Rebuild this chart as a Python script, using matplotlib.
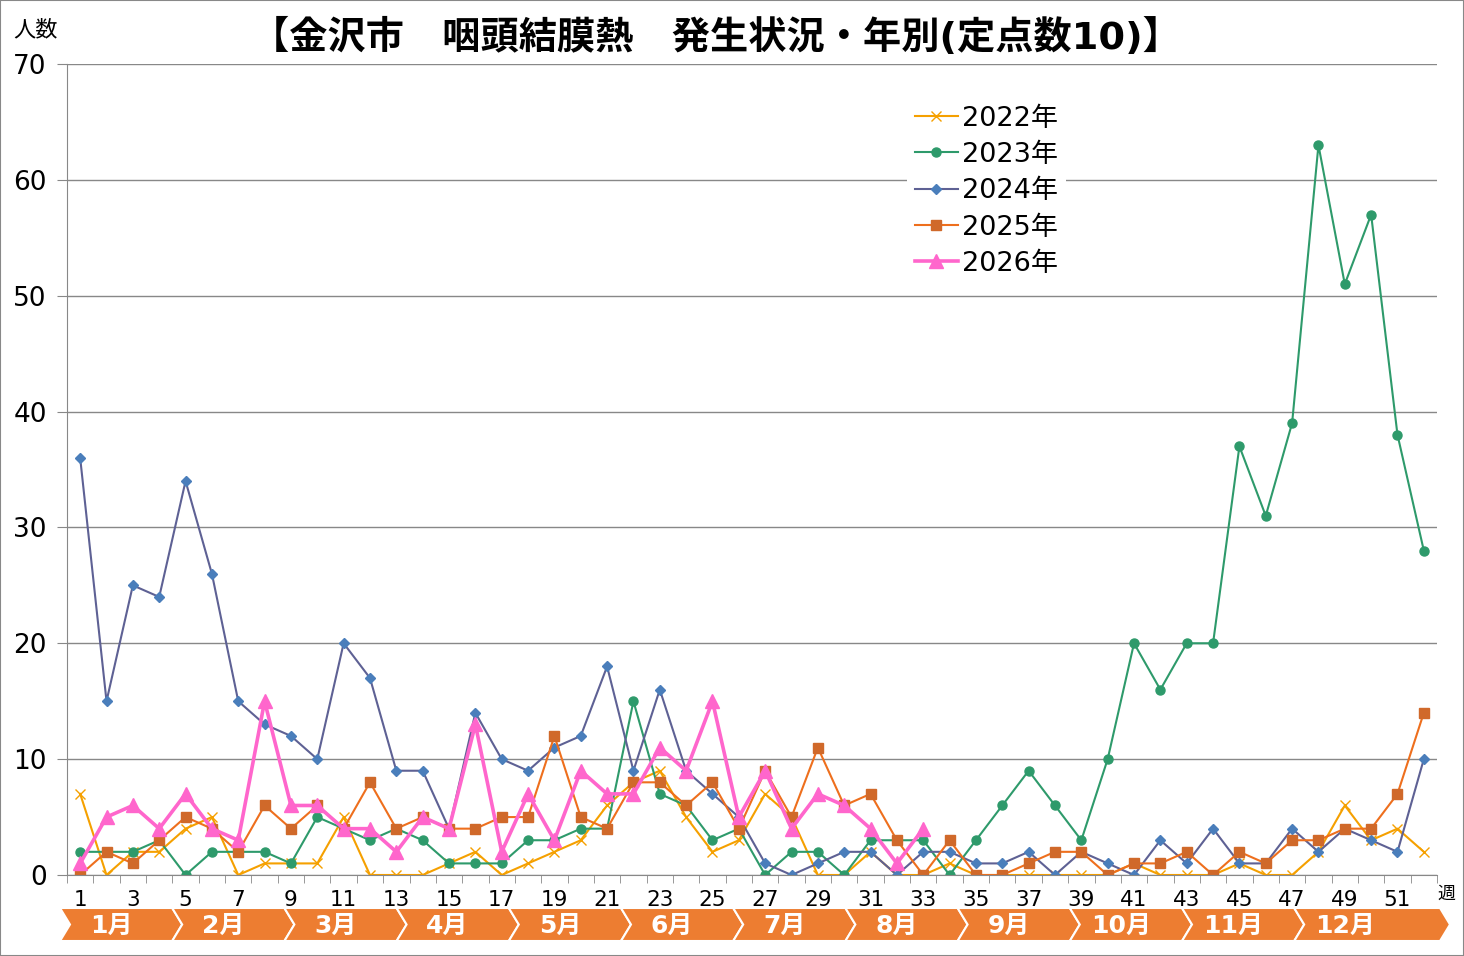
import matplotlib
matplotlib.use('Agg')
import matplotlib.pyplot as plt
from matplotlib.patches import Polygon, Rectangle
import numpy as np

# 数字は幅広の DejaVu、漢字は Noto CJK にまかせる
plt.rcParams['font.family'] = ['DejaVu Sans', 'Noto Sans CJK JP']

# 週別の患者数（定点数10）
weeks = np.arange(1, 53)
y2022 = [7, 0, 2, 2, 4, 5, 0, 1, 1, 1, 5, 0, 0, 0, 1, 2, 0, 1, 2, 3,
         6, 8, 9, 5, 2, 3, 7, 5, 0, 0, 2, 0, 0, 1, 0, 0, 0, 0, 0, 0,
         1, 0, 0, 0, 1, 0, 0, 2, 6, 3, 4, 2]
y2023 = [2, 2, 2, 3, 0, 2, 2, 2, 1, 5, 4, 3, 4, 3, 1, 1, 1, 3, 3, 4,
         4, 15, 7, 6, 3, 4, 0, 2, 2, 0, 3, 3, 3, 0, 3, 6, 9, 6, 3, 10,
         20, 16, 20, 20, 37, 31, 39, 63, 51, 57, 38, 28]
y2024 = [36, 15, 25, 24, 34, 26, 15, 13, 12, 10, 20, 17, 9, 9, 4, 14, 10, 9, 11, 12,
         18, 9, 16, 9, 7, 5, 1, 0, 1, 2, 2, 0, 2, 2, 1, 1, 2, 0, 2, 1,
         0, 3, 1, 4, 1, 1, 4, 2, 4, 3, 2, 10]
y2025 = [0, 2, 1, 3, 5, 4, 2, 6, 4, 6, 4, 8, 4, 5, 4, 4, 5, 5, 12, 5,
         4, 8, 8, 6, 8, 4, 9, 5, 11, 6, 7, 3, 0, 3, 0, 0, 1, 2, 2, 0,
         1, 1, 2, 0, 2, 1, 3, 3, 4, 4, 7, 14]
y2026 = [1, 5, 6, 4, 7, 4, 3, 15, 6, 6, 4, 4, 2, 5, 4, 13, 2, 7, 3, 9,
         7, 7, 11, 9, 15, 5, 9, 4, 7, 6, 4, 1, 4]

months = ['1月', '2月', '3月', '4月', '5月', '6月', '7月', '8月', '9月', '10月', '11月', '12月']
title = '【金沢市　咽頭結膜熱　発生状況・年別(定点数10)】'

fig = plt.figure(figsize=(14.64, 9.56), dpi=100)
ax = fig.add_axes([67 / 1464, 1 - 875 / 956, (1437 - 67) / 1464, (875 - 64) / 956])

ax.plot(weeks, y2022, color='#F5A000', lw=1.5, marker='x', ms=7, mew=1.0, label='2022年')
ax.plot(weeks, y2023, color='#2E9A6B', lw=1.5, marker='o', ms=6.5, label='2023年')
ax.plot(weeks, y2024, color='#5E6194', lw=1.5, marker='D', ms=5.5,
        mfc='#4A7EBB', mec='#4A7EBB', label='2024年')
ax.plot(weeks, y2025, color='#EE6F1D', lw=1.5, marker='s', ms=7,
        mfc='#D0692A', mec='#D0692A', label='2025年')
ax.plot(weeks[:len(y2026)], y2026, color='#FF66CC', lw=2.6, marker='^', ms=9.5, label='2026年')

ax.set_xlim(0.5, 52.5)
ax.set_ylim(0, 70)
ax.set_yticks(range(0, 71, 10))
ax.grid(axis='y', color='#888888', lw=1)
ax.set_axisbelow(True)
for s in ['top', 'right']:
    ax.spines[s].set_visible(False)
for s in ['left', 'bottom']:
    ax.spines[s].set_color('#888888')
ax.tick_params(axis='y', length=7, color='#888888', labelsize=19, pad=7.5)
ax.set_xticks(weeks[::2])
ax.set_xticks(np.arange(0.5, 53, 1), minor=True)
ax.tick_params(axis='x', which='major', length=0, labelsize=15.5, pad=10.5)
ax.tick_params(axis='x', which='minor', length=6, color='#888888')

leg = ax.legend(loc='upper left', bbox_to_anchor=(893 / 1464, 1 - 84 / 956),
                bbox_transform=fig.transFigure, frameon=True, fontsize=19.5,
                handlelength=1.6, handletextpad=0.15, labelspacing=0.38, borderpad=0.3)
leg.get_frame().set_edgecolor('none')
leg.get_frame().set_facecolor('white')
leg.get_frame().set_alpha(1)

fig.text(716 / 1464, 1 - 38 / 956, title, ha='center', va='center', fontsize=27.5, fontweight='bold')
fig.text(36 / 1464, 1 - 30 / 956, '人数', ha='center', va='center', fontsize=16)
fig.text(1446 / 1464, 1 - 894 / 956, '週', ha='center', va='center', fontsize=13)

# 月の矢印帯
band = fig.add_axes([0, 0, 1, 1])
band.set_xlim(0, 1464)
band.set_ylim(956, 0)
band.axis('off')
band.patch.set_alpha(0)
mw = 112.2
top, bot, tip = 908, 941, 10
for i, m in enumerate(months):
    x0 = 60 + i * mw
    x1 = 1440 if i == len(months) - 1 else x0 + mw
    pts = [(x0, top), (x1, top), (x1 + tip, (top + bot) / 2), (x1, bot), (x0, bot),
           (x0 + tip, (top + bot) / 2)]
    band.add_patch(Polygon(pts, closed=True, facecolor='#ED7D31', edgecolor='white', lw=1.5))
    band.text(x0 + 51, (top + bot) / 2 + 1, m, ha='center', va='center', color='white',
              fontsize=18, fontweight='bold')

fig.patches.append(Rectangle((0, 0), 1, 1, transform=fig.transFigure, fill=False,
                             edgecolor='#888888', lw=1.5))

fig.savefig('out.png', dpi=100)
